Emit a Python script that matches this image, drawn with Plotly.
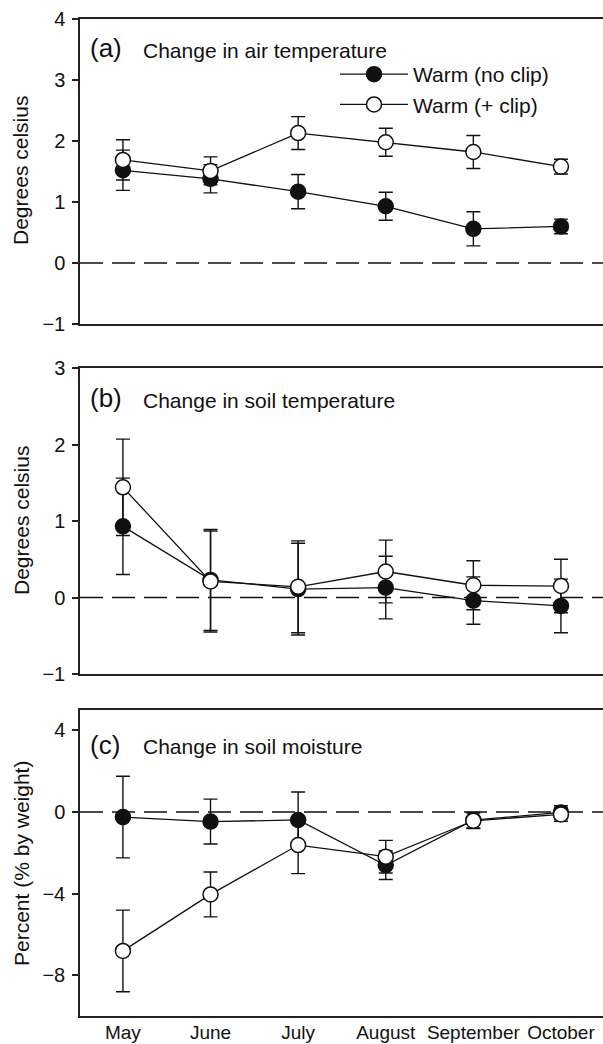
import plotly.graph_objects as go

# ---------------- data ----------------
months = ["May", "June", "July", "August", "September", "October"]
xpos = [0, 1, 2, 3, 4, 5]

air_noclip = [1.52, 1.38, 1.17, 0.93, 0.56, 0.60]
air_noclip_err = [0.33, 0.23, 0.28, 0.23, 0.28, 0.12]
air_clip = [1.69, 1.51, 2.13, 1.98, 1.82, 1.58]
air_clip_err = [0.33, 0.23, 0.27, 0.23, 0.27, 0.12]

soil_noclip = [0.93, 0.23, 0.11, 0.13, -0.04, -0.11]
soil_noclip_err = [0.63, 0.66, 0.60, 0.41, 0.31, 0.35]
soil_clip = [1.44, 0.21, 0.14, 0.34, 0.16, 0.15]
soil_clip_err = [0.63, 0.66, 0.60, 0.41, 0.32, 0.35]

moist_noclip = [-0.25, -0.47, -0.39, -2.61, -0.40, -0.02]
moist_noclip_err = [2.0, 1.1, 1.37, 0.7, 0.38, 0.33]
moist_clip = [-6.81, -4.04, -1.62, -2.19, -0.43, -0.12]
moist_clip_err = [2.0, 1.1, 1.4, 0.8, 0.38, 0.33]

series_names = ["Warm (no clip)", "Warm (+ clip)"]
panel_labels = ["(a)", "(b)", "(c)"]
panel_titles = ["Change in air temperature", "Change in soil temperature", "Change in soil moisture"]
y_titles = ["Degrees celsius", "Degrees celsius", "Percent (% by weight)"]

# ---------------- layout geometry ----------------
W, H = 603, 1044
ML = 80
PW = W - ML

def py(p):
    return 1 - p / H

def px(p):
    return (p - ML) / PW

FONT = "Liberation Sans, Arial, Helvetica, sans-serif"
INK = "#111111"

fig = go.Figure()

panels = [
    (air_noclip, air_noclip_err, air_clip, air_clip_err, "x", "y"),
    (soil_noclip, soil_noclip_err, soil_clip, soil_clip_err, "x2", "y2"),
    (moist_noclip, moist_noclip_err, moist_clip, moist_clip_err, "x3", "y3"),
]

for i, (v1, e1, v2, e2, xa, ya) in enumerate(panels):
    fig.add_trace(go.Scatter(
        x=xpos, y=v1, xaxis=xa, yaxis=ya, mode="lines+markers",
        name=series_names[0], showlegend=(i == 0),
        line=dict(color=INK, width=1.3),
        marker=dict(symbol="circle", size=15, color=INK, line=dict(color=INK, width=1.5)),
        error_y=dict(type="data", array=e1, visible=True, color=INK, thickness=1.4, width=7),
    ))
    fig.add_trace(go.Scatter(
        x=xpos, y=v2, xaxis=xa, yaxis=ya, mode="lines+markers",
        name=series_names[1], showlegend=(i == 0),
        line=dict(color=INK, width=1.3),
        marker=dict(symbol="circle", size=15, color="white", line=dict(color=INK, width=1.5)),
        error_y=dict(type="data", array=e2, visible=True, color=INK, thickness=1.4, width=7),
    ))

domains = [
    [py(324), py(19)],
    [py(674), py(368)],
    [py(1016), py(710)],
]
yranges = [[-1, 4], [-1, 3], [-10, 5]]
ytickvals = [[-1, 0, 1, 2, 3, 4], [-1, 0, 1, 2, 3], [-8, -4, 0, 4]]
xrange_ = [-0.49, 5.48]

axis_common = dict(showgrid=False, zeroline=False, showline=True, linecolor="#222222", linewidth=1.5)

layout = dict(
    width=W, height=H,
    margin=dict(l=ML, r=0, t=0, b=0, autoexpand=False),
    paper_bgcolor="white", plot_bgcolor="white",
    font=dict(family=FONT, size=20, color=INK),
    showlegend=True,
    legend=dict(
        x=px(335), y=py(54), xanchor="left", yanchor="top",
        bgcolor="rgba(0,0,0,0)", font=dict(size=21, family=FONT, color=INK),
        tracegroupgap=0, itemwidth=68,
    ),
)

for i in range(3):
    sfx = "" if i == 0 else str(i + 1)
    layout["xaxis" + sfx] = dict(
        axis_common, domain=[0, 1], range=xrange_, anchor="y" + sfx, mirror=True,
        tickvals=xpos, ticktext=months, ticks="", showticklabels=(i == 2),
        tickfont=dict(size=19, family=FONT, color=INK), automargin=False,
        ticklabelstandoff=-2,
    )
    layout["yaxis" + sfx] = dict(
        axis_common, domain=domains[i], range=yranges[i], anchor="x" + sfx,
        tickvals=ytickvals[i], ticks="outside", ticklen=6, tickwidth=1.5, tickcolor="#222222",
        tickfont=dict(size=20, family=FONT, color=INK), automargin=False,
        ticklabelstandoff=3,
    )

fig.update_layout(**layout)

# dashed zero reference lines
for i in range(3):
    sfx = "" if i == 0 else str(i + 1)
    fig.add_shape(type="line", xref=("x" + sfx + " domain"), yref=("y" + sfx),
                  x0=0, x1=1, y0=0, y1=0,
                  line=dict(color=INK, width=1.3, dash="23px,9px"), layer="below")

# panel labels, titles, axis titles
label_y = [48, 398, 745]
title_y = [51, 400, 746]
ytitle_y = [171, 521, 864]
for i in range(3):
    fig.add_annotation(text=panel_labels[i], xref="paper", yref="paper",
                       x=px(88), y=py(label_y[i]), xanchor="left", yanchor="middle",
                       showarrow=False, font=dict(size=26, family=FONT, color=INK))
    fig.add_annotation(text=panel_titles[i], xref="paper", yref="paper",
                       x=px(141), y=py(title_y[i]), xanchor="left", yanchor="middle",
                       showarrow=False, font=dict(size=21, family=FONT, color=INK))
    fig.add_annotation(text=y_titles[i], xref="paper", yref="paper",
                       x=px(21), y=py(ytitle_y[i]), xanchor="center", yanchor="middle",
                       textangle=-90, showarrow=False, font=dict(size=21, family=FONT, color=INK))

fig.write_html(
    "out.html",
    config={"displayModeBar": False},
    post_script="document.body.style.margin='0';document.body.style.overflow='hidden';",
)
